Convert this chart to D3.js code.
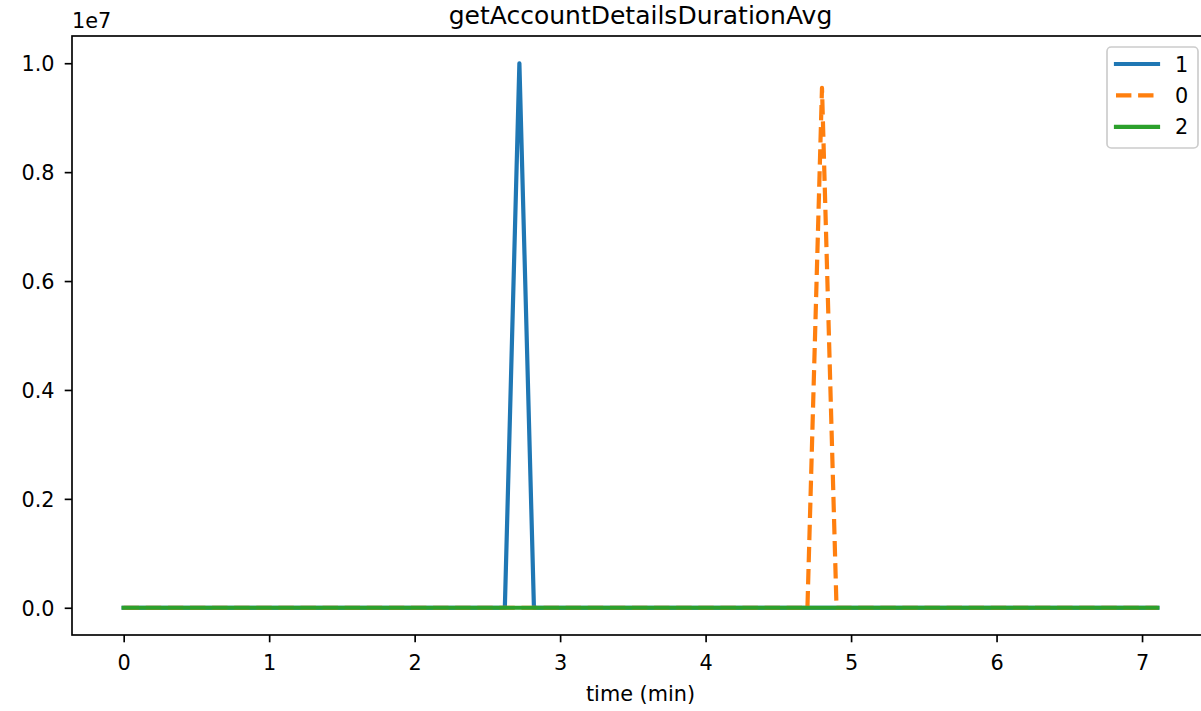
<!DOCTYPE html>
<html>
<head>
<meta charset="utf-8">
<script src="https://cdn.jsdelivr.net/npm/d3@7"></script>
<style>
  html, body { margin: 0; padding: 0; background: #fff; }
  svg { display: block; font-family: "DejaVu Sans", sans-serif; }
</style>
</head>
<body>
<svg id="chart" width="1201" height="711"></svg>
<script>
// ---- data (time in minutes, values raw) ----
const seriesNames = ["1", "0", "2"];
const series1Time = [0, 2.62, 2.72, 2.82, 7.105];
const series1Vals = [0, 0, 1.0e7, 0, 0];
const series0Time = [0, 4.70, 4.80, 4.90, 7.105];
const series0Vals = [0, 0, 0.955e7, 0, 0];
const series2Time = [0, 7.105];
const series2Vals = [0, 0];
const xTickValues = [0, 1, 2, 3, 4, 5, 6, 7];
const yTickValues = [0, 0.2e7, 0.4e7, 0.6e7, 0.8e7, 1.0e7];
const yTickLabels = ["0.0", "0.2", "0.4", "0.6", "0.8", "1.0"];
const titleText = "getAccountDetailsDurationAvg";
const xLabelText = "time (min)";
const offsetText = "1e7";

const colors = { "1": "#1f77b4", "0": "#ff7f0e", "2": "#2ca02c" };
const dashes = { "1": null, "0": "15.4,6.7", "2": null };

const seriesData = [
  { name: "1", pts: series1Time.map((t, i) => [t, series1Vals[i]]) },
  { name: "0", pts: series0Time.map((t, i) => [t, series0Vals[i]]) },
  { name: "2", pts: series2Time.map((t, i) => [t, series2Vals[i]]) }
];

// ---- layout ----
const L = 72, T = 36, R = 1209, B = 635;
const fs = 20.8;
const svg = d3.select("#chart");

const allT = seriesData.flatMap(s => s.pts.map(p => p[0]));
const allV = seriesData.flatMap(s => s.pts.map(p => p[1]));
const tMin = d3.min(allT), tMax = d3.max(allT);
const vMin = d3.min(allV), vMax = d3.max(allV);
const tPad = (tMax - tMin) * 0.05, vPad = (vMax - vMin) * 0.05;

const x = d3.scaleLinear().domain([tMin - tPad, tMax + tPad]).range([L, R]);
const y = d3.scaleLinear().domain([vMin - vPad, vMax + vPad]).range([B, T]);

// clip
svg.append("defs").append("clipPath").attr("id", "clip")
  .append("rect").attr("x", L).attr("y", T).attr("width", R - L).attr("height", B - T);

// lines
const line = d3.line().x(d => x(d[0])).y(d => y(d[1]));
const plot = svg.append("g").attr("clip-path", "url(#clip)");
seriesData.forEach(s => {
  plot.append("path")
    .attr("d", line(s.pts))
    .attr("fill", "none")
    .attr("stroke", colors[s.name])
    .attr("stroke-width", 4.2)
    .attr("stroke-linejoin", "round")
    .attr("stroke-linecap", dashes[s.name] ? "butt" : "square")
    .attr("stroke-dasharray", dashes[s.name]);
});

// axes
const xAxis = d3.axisBottom(x).tickValues(xTickValues).tickFormat(d3.format("d"))
  .tickSizeInner(7.3).tickSizeOuter(0).tickPadding(7.3);
const gx = svg.append("g").attr("transform", `translate(0,${B})`).call(xAxis);
gx.select(".domain").remove();
gx.selectAll(".tick line").attr("stroke", "#000").attr("stroke-width", 1.67);
gx.selectAll(".tick text").attr("font-size", fs).attr("fill", "#000")
  .attr("font-family", "DejaVu Sans").attr("dy", null).attr("y", 35);

const yAxis = d3.axisLeft(y).tickValues(yTickValues)
  .tickFormat((d, i) => yTickLabels[i])
  .tickSizeInner(7.3).tickSizeOuter(0).tickPadding(7.3);
const gy = svg.append("g").attr("transform", `translate(${L},0)`).call(yAxis);
gy.select(".domain").remove();
gy.selectAll(".tick line").attr("stroke", "#000").attr("stroke-width", 1.67);
gy.selectAll(".tick text").attr("font-size", fs).attr("fill", "#000")
  .attr("font-family", "DejaVu Sans").attr("dy", "7.6").attr("x", -17.5);

// spines
svg.append("rect").attr("x", L).attr("y", T).attr("width", R - L).attr("height", B - T)
  .attr("fill", "none").attr("stroke", "#000").attr("stroke-width", 1.67);

// title, labels
svg.append("text").attr("x", (L + R) / 2).attr("y", 23.5).attr("text-anchor", "middle")
  .attr("font-size", 25).attr("fill", "#000").text(titleText);
svg.append("text").attr("x", (L + R) / 2).attr("y", 701).attr("text-anchor", "middle")
  .attr("font-size", fs).attr("fill", "#000").text(xLabelText);
svg.append("text").attr("x", L).attr("y", 28).attr("text-anchor", "start")
  .attr("font-size", fs).attr("fill", "#000").text(offsetText);

// legend
const leg = svg.append("g");
leg.append("rect").attr("x", 1107).attr("y", 47).attr("width", 91).attr("height", 101)
  .attr("rx", 4.2).attr("ry", 4.2)
  .attr("fill", "#fff").attr("fill-opacity", 0.8)
  .attr("stroke", "#cccccc").attr("stroke-width", 1.67);
seriesNames.forEach((n, i) => {
  const cy = 64 + i * 31.4;
  leg.append("line").attr("x1", 1116).attr("x2", 1158).attr("y1", cy).attr("y2", cy)
    .attr("stroke", colors[n]).attr("stroke-width", 4.2)
    .attr("stroke-linecap", dashes[n] ? "butt" : "square")
    .attr("stroke-dasharray", dashes[n]);
  leg.append("text").attr("x", 1175).attr("y", cy + 7.6)
    .attr("font-size", fs).attr("fill", "#000").text(n);
});
</script>
</body>
</html>
